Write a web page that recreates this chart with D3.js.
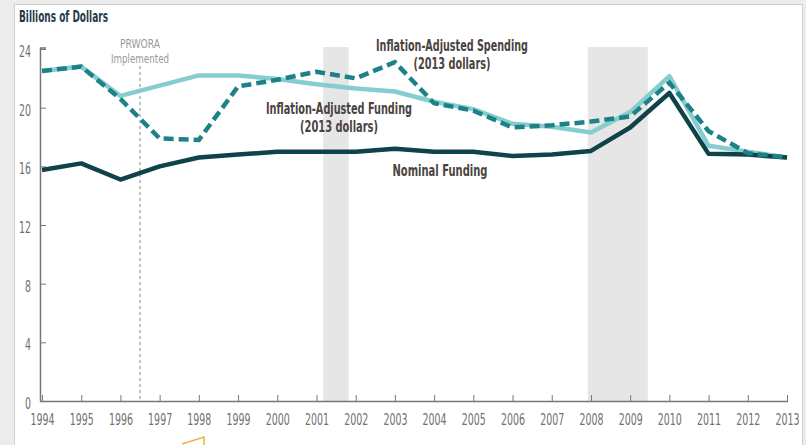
<!DOCTYPE html>
<meta charset="utf-8">
<title>TANF funding</title>
<style>
body { margin: 0; background: #ececec; }
svg { display: block; }
.tick text { font-family: "DejaVu Sans Condensed", "DejaVu Sans", sans-serif; font-stretch: condensed; fill: #707070; }
.note { font-family: "DejaVu Sans Condensed", "DejaVu Sans", sans-serif; font-stretch: condensed; font-weight: bold; fill: #4a4340; font-size: 15px; text-anchor: middle; }
</style>
<svg width="806" height="445"></svg>
<script src="https://d3js.org/d3.v7.min.js"></script>
<script>

var years = d3.range(1994, 2014);
var nominalFunding = [15.75, 16.2, 15.1, 16.0, 16.6, 16.8, 17.0, 17.0, 17.0, 17.2, 17.0, 17.0, 16.7, 16.8, 17.05, 18.65, 21.0, 16.85, 16.8, 16.6];
var adjustedFunding = [22.5, 22.8, 20.8, 21.5, 22.2, 22.2, 21.95, 21.6, 21.3, 21.1, 20.4, 19.9, 18.9, 18.7, 18.3, 19.7, 22.15, 17.4, 17.0, 16.6];
var adjustedSpending = [22.5, 22.8, 20.6, 17.9, 17.8, 21.45, 21.9, 22.45, 22.0, 23.1, 20.3, 19.8, 18.65, 18.8, 19.05, 19.4, 21.7, 18.4, 16.9, 16.6];
var yTicks = [0, 4, 8, 12, 16, 20, 24];
var recessions = [[2001.17, 2001.82], [2007.92, 2009.45]];
var prwora = 1996.5;

var svg = d3.select("svg");

// white panel with grey frame
svg.append("rect").attr("x", 14.5).attr("y", 4.5).attr("width", 788).attr("height", 450)
    .style("fill", "#fff").style("stroke", "#cfcfcf");

var x = d3.scaleLinear().domain([1994, 2013]).range([42, 787]);
var y = d3.scaleLinear().domain([0, 24]).range([401, 49]);

// recession bars
svg.selectAll(".rec").data(recessions).enter().append("rect")
    .attr("x", function(d) { return x(d[0]); })
    .attr("width", function(d) { return x(d[1]) - x(d[0]); })
    .attr("y", y(24) - 2)
    .attr("height", y(0) - y(24) + 2)
    .style("fill", "#e6e6e6");

// PRWORA line
svg.append("line").attr("x1", x(prwora)).attr("x2", x(prwora)).attr("y1", 66).attr("y2", y(0))
    .style("stroke", "#888").style("stroke-dasharray", "3,3").style("stroke-width", 1);
svg.append("text").attr("class", "note").attr("x", x(prwora)).attr("y", 48)
    .attr("textLength", 40).attr("lengthAdjust", "spacingAndGlyphs")
    .style("font-weight", "normal").style("fill", "#9a9a9a").style("font-size", "12px").text("PRWORA");
svg.append("text").attr("class", "note").attr("x", x(prwora)).attr("y", 63)
    .attr("textLength", 58).attr("lengthAdjust", "spacingAndGlyphs")
    .style("font-weight", "normal").style("fill", "#9a9a9a").style("font-size", "12px").text("Implemented");

// axes
var yAxis = svg.append("g").attr("transform", "translate(40,0)")
    .call(d3.axisRight(y).tickValues(yTicks).tickSize(6).tickPadding(0));
yAxis.selectAll("text").attr("x", -13).attr("dy", "0.5em").style("text-anchor", "end").style("font-size", "15px")
    .attr("transform", "scale(0.7,1)");
var xAxis = svg.append("g").attr("transform", "translate(0," + y(0) + ")")
    .call(d3.axisTop(x).tickValues(years).tickFormat(d3.format("d")).tickSize(6));
xAxis.selectAll("text").attr("y", 24).attr("dy", null).style("font-size", "15px")
    .attr("transform", "scale(0.7,1)");
svg.selectAll(".domain").style("stroke", "#777").style("stroke-width", 1.5);
svg.selectAll(".tick line").style("stroke", "#777");
xAxis.select(".domain").attr("d", "M40,0.5H788");
yAxis.select(".domain").attr("d", "M0.5," + y(0) + "V" + (y(24) - 1) + "H6");

var line = d3.line()
    .x(function(d, i) { return x(years[i]); })
    .y(function(d) { return y(d); });

svg.append("path").datum(adjustedFunding).attr("d", line)
    .style("fill", "none").style("stroke", "#86cdd0").style("stroke-width", 4.5).style("stroke-linejoin", "round");
svg.append("path").datum(nominalFunding).attr("d", line)
    .style("fill", "none").style("stroke", "#0f4349").style("stroke-width", 4.5).style("stroke-linejoin", "round");
svg.append("path").datum(adjustedSpending).attr("d", line)
    .style("fill", "none").style("stroke", "#1d8288").style("stroke-width", 4.5).style("stroke-dasharray", "10,5");

// labels
function note(txt, cx, by, w) {
  svg.append("text").attr("class", "note").attr("x", cx).attr("y", by)
      .attr("textLength", w).attr("lengthAdjust", "spacingAndGlyphs").text(txt);
}
svg.append("text").attr("x", 19).attr("y", 22)
    .attr("textLength", 89).attr("lengthAdjust", "spacingAndGlyphs")
    .style("font-family", "'DejaVu Sans Condensed', 'DejaVu Sans', sans-serif").style("font-stretch", "condensed")
    .style("font-weight", "bold").style("font-size", "15px").style("fill", "#1f3a48")
    .text("Billions of Dollars");
note("Inflation-Adjusted Spending", 452, 51, 152);
note("(2013 dollars)", 452, 69, 77);
note("Inflation-Adjusted Funding", 339, 114, 146);
note("(2013 dollars)", 339, 132, 78);
note("Nominal Funding", 440, 176, 95);

// stray yellow mark at the bottom edge
svg.append("path").attr("d", "M182,444L204,437V446")
    .style("fill", "none").style("stroke", "#f0b43a").style("stroke-width", 1.5);
</script>
